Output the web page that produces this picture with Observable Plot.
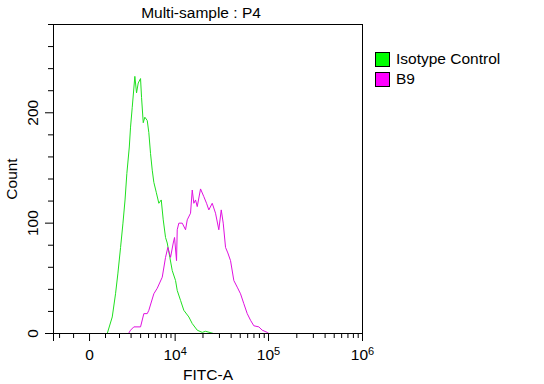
<!DOCTYPE html>
<html><head><meta charset="utf-8">
<script src="https://cdn.jsdelivr.net/npm/d3@7"></script>
<script src="https://cdn.jsdelivr.net/npm/@observablehq/plot@0.6"></script>
<style>
body{margin:0;background:#fff;font-family:"Liberation Sans",Arial,sans-serif}
#wrap{position:relative;width:544px;height:384px}
#legend{position:absolute;left:375px;top:49px;font-size:15.5px;color:#000}
#legend .row{display:flex;align-items:center;height:20px}
#legend .sw{width:15px;height:15px;border:1px solid #000;margin-right:6px;box-sizing:border-box}
</style></head><body><div id="wrap"></div>
<script>
// Series names and colours
const seriesNames = ["Isotype Control", "B9"];
const lineColors = ["#1fe01f", "#e010e0"];
const swatchColors = ["#00ff00", "#ff00ff"];

// Isotype Control: FITC-A value, count
const isoX = [1116,1460,1698,1870,2084,2277,2453,2610,2832,2948,3111,3372,3549,3733,3992,4109,4312,4511,4822,5038,5277,5525,5767,6146,6582,7007,7379,7832,8180,8740,9291,10100,10541,11453,12440,14090,15333,17355,19637,21301,25945];
const isoCount = [0,15,36,54,78,100,121,145,169,187,205,233,218,227,231,214,191,196,193,182,163,148,137,128,118,121,103,87,82,69,57,48,39,30,21,15,9,3,1,2,0];

// B9: FITC-A value, count
const b9X = [2762,2948,3270,3992,4386,4822,5038,5767,6311,7191,7832,8306,8899,9530,9849,10358,10541,10975,11952,12979,13542,14700,15333,15952,16640,17355,18829,20428,21835,23109,25127,27252,29554,31355,32934,34846,36874,39398,42723,46441,50353,54601,59347,64345,69765,78863,85716,96892,100760];
const b9Count = [0,3,6,6,18,18,21,36,41,51,69,78,69,82,87,66,94,100,100,94,103,109,130,118,121,115,131,124,118,112,118,109,94,112,100,78,73,66,48,42,36,27,18,12,7,6,3,1,0];

// Axis ticks
const xMajor = [-2500, 0, 1e4, 1e5, 1e6];
const xMajorLabels = ["", "0", "10^4", "10^5", "10^6"];
const xMinor = [-2000,-1000,1000,2000,3000,4000,5000,6000,7000,8000,9000,
  2e4,3e4,4e4,5e4,6e4,7e4,8e4,9e4,2e5,3e5,4e5,5e5,6e5,7e5,8e5,9e5];
const yMajor = [0, 100, 200];
const yMinor = [20,40,60,80,120,140,160,180,220,240,260,280];
const xDomain = [-2500, 1e6];
const yDomain = [0, 280];

// biexponential-like display transform
const W = 2494;
const T = v => Math.asinh(v / W) / Math.LN10;

const rows = [
  ...isoX.map((x, i) => ({series: seriesNames[0], x, count: isoCount[i]})),
  ...b9X.map((x, i) => ({series: seriesNames[1], x, count: b9Count[i]}))
];
const majorT = xMajor.map(T);
const fmtX = t => { const i = majorT.findIndex(m => Math.abs(m - t) < 1e-9); return i < 0 ? "" : xMajorLabels[i]; };

const chart = Plot.plot({
  width: 544, height: 384,
  marginTop: 24, marginLeft: 53, marginRight: 182, marginBottom: 51,
  style: {fontFamily: "'Liberation Sans', Arial, sans-serif", fontSize: "15.5px", background: "white", color: "black"},
  x: {type: "linear", domain: xDomain.map(T)},
  y: {domain: yDomain},
  color: {domain: seriesNames, range: lineColors},
  marks: [
    Plot.line(rows, {x: d => T(d.x), y: "count", z: "series", stroke: "series", strokeWidth: 1}),
    Plot.frame(),
    Plot.ruleY([yDomain[1]], {stroke: "currentColor"}),
    Plot.ruleX([T(xDomain[1])], {stroke: "currentColor"}),
    Plot.axisX(xMinor.map(T), {tickSize: 5, tickFormat: () => "", label: null}),
    Plot.axisX(majorT, {tickSize: 8, tickPadding: 7, tickFormat: fmtX, label: "FITC-A", labelAnchor: "center", labelArrow: "none", labelOffset: 46, fontSize: 15.5}),
    Plot.axisY(yMinor, {tickSize: 5, tickFormat: () => "", label: null}),
    Plot.axisY(yMajor, {tickSize: 8, tickPadding: 8, tickRotate: -90, label: "Count", labelAnchor: "center", labelArrow: "none", labelOffset: 48, fontSize: 15.5}),
    Plot.text(["Multi-sample : P4"], {frameAnchor: "top", dy: -7, dx: -7, lineAnchor: "bottom", fontSize: 15.5})
  ]
});
// render "10^n" tick labels with a raised exponent
d3.select(chart).selectAll("text").each(function() {
  const el = d3.select(this);
  const tx = el.text();
  if (tx.includes("^")) {
    const [base, exp] = tx.split("^");
    el.text("");
    el.append("tspan").text(base);
    el.append("tspan").attr("dy", "-0.45em").attr("font-size", "11px").text(exp);
  }
});
const wrap = document.getElementById("wrap");
wrap.appendChild(chart);
const lg = document.createElement("div");
lg.id = "legend";
seriesNames.forEach((n, i) => {
  const r = document.createElement("div"); r.className = "row";
  const s = document.createElement("div"); s.className = "sw"; s.style.background = swatchColors[i];
  const t = document.createElement("span"); t.textContent = n;
  r.appendChild(s); r.appendChild(t); lg.appendChild(r);
});
wrap.appendChild(lg);
</script></body></html>
